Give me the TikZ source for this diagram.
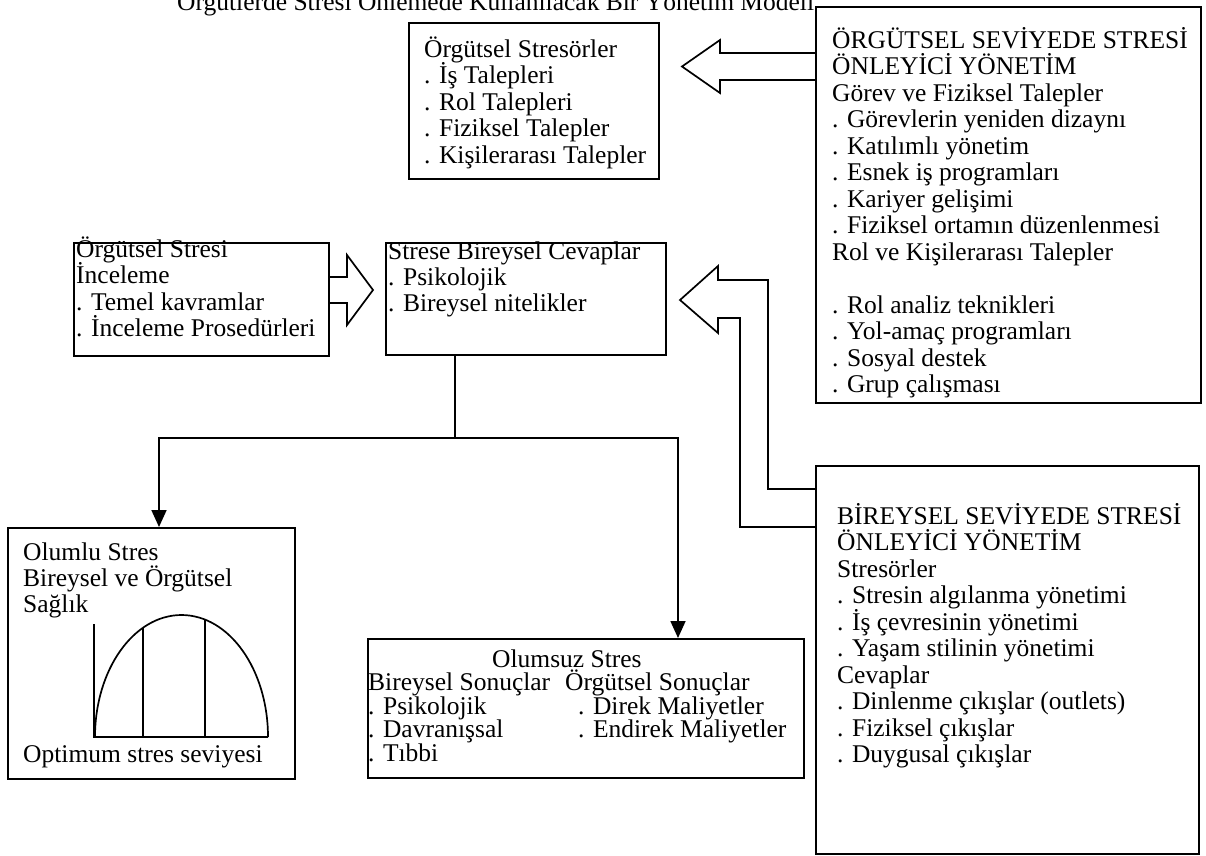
\documentclass[tikz,border=0pt]{standalone}
\usepackage{fontspec}
\setmainfont{Liberation Serif}
\usetikzlibrary{arrows.meta}
\newcommand{\lns}[2]{\vtop{\baselineskip=#1pt\lineskiplimit=-100pt\lineskip=0pt\let\\\cr\halign{##\hfil\cr#2\crcr}}}
\begin{document}
\begin{tikzpicture}[x=1pt,y=-1pt,
  box/.style={draw,line width=1.7pt,inner sep=0pt,anchor=north west},
  txt/.style={anchor=base west,inner sep=0pt,font=\fontsize{25.5}{26}\selectfont},
  ln/.style={line width=1.7pt,line join=miter},
  tipd/.style={-{Triangle[width=15pt,length=17pt]}}]
\useasboundingbox (0,0) rectangle (1206,855);

% title (partly cut by the page edge, as in the scan)
\node[txt] (title) at (177,10) {Örgütlerde Stresi Önlemede Kullanılacak Bir Yönetim Modeli};

% boxes
\node[box,minimum width=250pt,minimum height=156pt] (A) at (408,22) {};
\node[box,minimum width=385pt,minimum height=396pt] (B) at (815,6) {};
\node[box,minimum width=255pt,minimum height=113pt] (C) at (73,242) {};
\node[box,minimum width=280pt,minimum height=112pt] (D) at (385,242) {};
\node[box,minimum width=383pt,minimum height=388pt] (E) at (815,465) {};
\node[box,minimum width=287pt,minimum height=251pt] (F) at (7,527) {};
\node[box,minimum width=436pt,minimum height=139pt] (G) at (367,638) {};

% texts
\node[txt] (tA) at (424,57) {\lns{26.5}{Örgütsel Stresörler\\. İş Talepleri\\. Rol Talepleri\\. Fiziksel Talepler\\. Kişilerarası Talepler}};
\node[txt] (tB) at (832,48) {\lns{26.5}{ÖRGÜTSEL SEVİYEDE STRESİ\\ÖNLEYİCİ YÖNETİM\\Görev ve Fiziksel Talepler\\. Görevlerin yeniden dizaynı\\. Katılımlı yönetim\\. Esnek iş programları\\. Kariyer gelişimi\\. Fiziksel ortamın düzenlenmesi\\Rol ve Kişilerarası Talepler\\{}\\. Rol analiz teknikleri\\. Yol-amaç programları\\. Sosyal destek\\. Grup çalışması}};
\node[txt] (tC) at (76,257) {\lns{26.5}{Örgütsel Stresi\\İnceleme\\. Temel kavramlar\\. İnceleme Prosedürleri}};
\node[txt] (tD) at (388,259) {\lns{26}{Strese Bireysel Cevaplar\\. Psikolojik\\. Bireysel nitelikler}};
\node[txt] (tE) at (837,524) {\lns{26.5}{BİREYSEL SEVİYEDE STRESİ\\ÖNLEYİCİ YÖNETİM\\Stresörler\\. Stresin algılanma yönetimi\\. İş çevresinin yönetimi\\. Yaşam stilinin yönetimi\\Cevaplar\\. Dinlenme çıkışlar (outlets)\\. Fiziksel çıkışlar\\. Duygusal çıkışlar}};
\node[txt] (tF) at (23,560) {\lns{26}{Olumlu Stres\\Bireysel ve Örgütsel\\Sağlık}};
\node[txt] (tF2) at (23,762) {Optimum stres seviyesi};
\node[txt] (tG) at (492,667) {Olumsuz Stres};
\node[txt] (tG1) at (368,690.5) {\lns{23.5}{Bireysel Sonuçlar\\. Psikolojik\\. Davranışsal\\. Tıbbi}};
\node[txt] (tG2) at (565,690.5) {Örgütsel Sonuçlar};
\node[txt] (tG3) at (578,714) {\lns{23.5}{. Direk Maliyetler\\. Endirek Maliyetler}};

% curve in box F
\draw[ln] (94,624) -- (94,737) -- (268,737);
\draw[ln] (95,737) arc[start angle=180,end angle=0,x radius=86.5pt,y radius=122pt];
\draw[ln] (143,628) -- (143,737);
\draw[ln] (205,620) -- (205,737);

% hollow arrow B -> A
\draw[ln] (B.west |- 0,53) -- (720,53) -- (720,40) -- (682,66.5) -- (720,93) -- (720,80) -- (B.west |- 0,80);
% hollow arrow C -> D
\draw[ln] (C.east |- 0,277) -- (347,277) -- (347,255) -- (373,290) -- (347,325) -- (347,303) -- (C.east |- 0,303);
% bent hollow arrow E -> D
\draw[ln] (E.west |- 0,489) -- (768,489) -- (768,280) -- (718,280) -- (718,266) -- (680,300) -- (718,333) -- (718,318) -- (740,318) -- (740,527) -- (E.west |- 0,527);

% tree connector from D
\coordinate (j) at (455,438);
\coordinate (xF) at (159,0);
\coordinate (xG) at (678,0);
\draw[ln] (D.south -| j) -- (j);
\draw[ln,tipd] (j) -| (F.north -| xF);
\draw[ln,tipd] (j) -| (G.north -| xG);
\end{tikzpicture}
\end{document}
